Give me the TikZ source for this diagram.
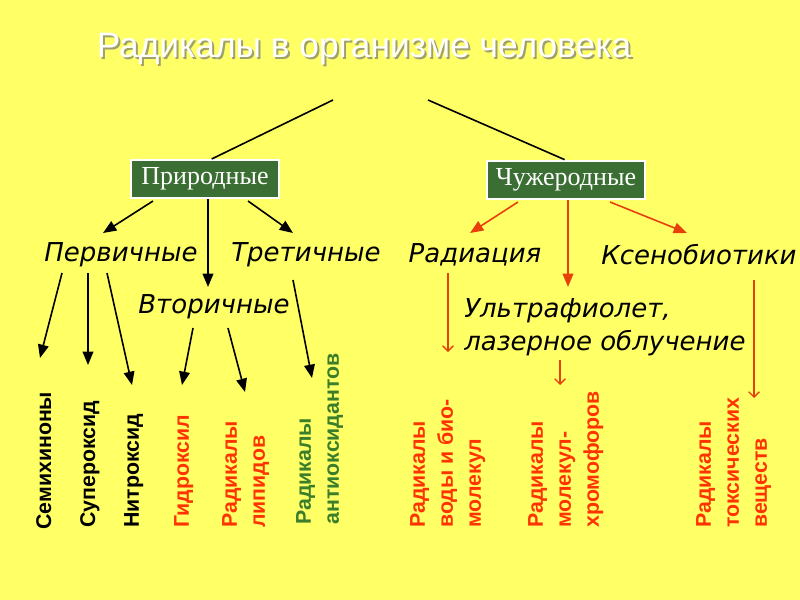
\documentclass[tikz,border=0pt]{standalone}
\usepackage{fontspec}
\setmainfont{Liberation Serif}
\newfontfamily\arialf{Liberation Sans}
\newfontfamily\dejavuf{DejaVu Sans}
\usetikzlibrary{arrows.meta}
\definecolor{bgyel}{RGB}{255,255,102}
\definecolor{boxgreen}{RGB}{58,110,50}
\definecolor{txtgreen}{RGB}{58,125,42}
\definecolor{txtred}{RGB}{255,51,0}
\definecolor{arrred}{RGB}{232,64,10}
\definecolor{shadowgray}{RGB}{160,160,110}

\begin{document}
\begin{tikzpicture}[x=0.75pt,y=0.75pt,yscale=-1,xscale=1,
  box/.style={draw=white,line width=1.5pt,fill=boxgreen,text=white,inner sep=0pt,font=\fontsize{19.5}{22}\selectfont},
  cat/.style={inner sep=0pt,font=\dejavuf\itshape\fontsize{19.5}{25}\selectfont},
  vlab/.style={rotate=90,anchor=north west,inner sep=0pt,align=left,font=\arialf\bfseries\fontsize{16}{21}\selectfont},
  blk/.style={line width=1.2pt,-{Triangle[length=10pt,width=8pt]}},
  rd/.style={arrred,line width=1.2pt,-{Triangle[length=10pt,width=8pt]}},
  rdthin/.style={arrred,line width=1pt,-{Straight Barb[length=4pt,width=8pt]}}]
\fill[bgyel] (0,0) rectangle (800,600);
%title with shadow
\node[font=\arialf\fontsize{26.5}{30}\selectfont,text=shadowgray] at (366,51) {Радикалы в организме человека};
\node (title) [font=\arialf\fontsize{26.5}{30}\selectfont,text=white] at (364,49) {Радикалы в организме человека};
\coordinate (forkL) at (333,100);
\coordinate (forkR) at (428,100);
%boxes
\node (prir) [box,minimum width=111pt,minimum height=28.5pt] at (205,179) {Природные};
\node (chuzh) [box,minimum width=119pt,minimum height=29pt] at (566,180) {Чужеродные};
\draw[line width=1.2pt] (forkL) -- ([xshift=5pt]prir.north);
\draw[line width=1.2pt] (forkR) -- ([xshift=-1pt]chuzh.north);
%second level
\node (perv) [cat] at (121,255) {Первичные};
\node (tret) [cat] at (306,255) {Третичные};
\node (vtor) [cat] at (214,307) {Вторичные};
\node (rad) [cat] at (475,255) {Радиация};
\node (ksen) [cat] at (699,255) {Ксенобиотики};
\node (uf) [cat,anchor=west,align=left] at (464,327) {Ультрафиолет,\\лазерное облучение};
%bottom labels
\node (sem) [vlab] at (36,530) {Семихиноны};
\node (sup) [vlab] at (80,528) {Супероксид};
\node (nitr) [vlab] at (124,528) {Нитроксид};
\node (gidr) [vlab,text=txtred] at (174,528) {Гидроксил};
\node (lip) [vlab,text=txtred] at (222,528) {Радикалы\\липидов};
\node (anti) [vlab,text=txtgreen] at (296,525) {Радикалы\\антиоксидантов};
\node (voda) [vlab,text=txtred] at (410,528) {Радикалы\\воды и био-\\молекул};
\node (hrom) [vlab,text=txtred] at (528,528) {Радикалы\\молекул-\\хромофоров};
\node (tox) [vlab,text=txtred] at (696,528) {Радикалы\\токсических\\веществ};
%arrow ends
\coordinate (p1) at (153,201); \coordinate (p1t) at (103,233);
\coordinate (p2) at (208,199); \coordinate (p2t) at (208,287);
\coordinate (p3) at (248,201); \coordinate (p3t) at (293,233);
\coordinate (a1) at (62,273); \coordinate (a1t) at (40,358);
\coordinate (a2) at (88,273); \coordinate (a2t) at (88,365);
\coordinate (a3) at (107,273); \coordinate (a3t) at (132,385);
\coordinate (b1) at (193,328); \coordinate (b1t) at (182,385);
\coordinate (b2) at (228,328); \coordinate (b2t) at (245,392);
\coordinate (c1) at (293,280); \coordinate (c1t) at (312,378);
\coordinate (q1) at (518,202); \coordinate (q1t) at (470,233);
\coordinate (q2) at (568,200); \coordinate (q2t) at (568,287);
\coordinate (q3) at (610,202); \coordinate (q3t) at (687,233);
\coordinate (r1) at (448,273); \coordinate (r1t) at (448,352);
\coordinate (u1) at (560,360); \coordinate (u1t) at (560,385);
\coordinate (k1) at (754,280); \coordinate (k1t) at (754,398);
%black arrows
\draw[blk] (p1) -- (p1t);
\draw[blk] (p2) -- (p2t);
\draw[blk] (p3) -- (p3t);
\draw[blk] (a1) -- (a1t);
\draw[blk] (a2) -- (a2t);
\draw[blk] (a3) -- (a3t);
\draw[blk] (b1) -- (b1t);
\draw[blk] (b2) -- (b2t);
\draw[blk] (c1) -- (c1t);
%red arrows
\draw[rd] (q1) -- (q1t);
\draw[rd] (q2) -- (q2t);
\draw[rd] (q3) -- (q3t);
\draw[rdthin] (r1) -- (r1t);
\draw[rdthin] (u1) -- (u1t);
\draw[rdthin] (k1) -- (k1t);
\end{tikzpicture}
\end{document}
